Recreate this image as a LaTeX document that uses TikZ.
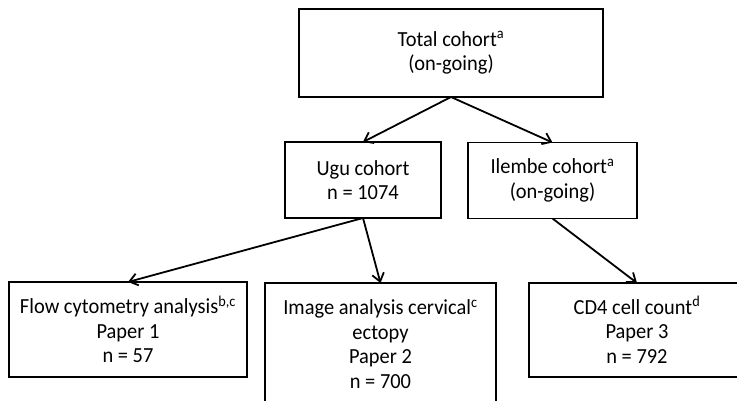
\documentclass[tikz,border=0pt]{standalone}
\usepackage{fontspec}
\setmainfont{Carlito}[FakeStretch=0.95]
\usetikzlibrary{arrows.meta}

\begin{document}
\begin{tikzpicture}[x=1pt,y=-1pt]
    \tikzstyle{cohort}=[draw,line width=1.8pt,inner sep=0pt,outer sep=0pt,align=center,font=\fontsize{21.5}{24.5}\selectfont];
    \tikzstyle{link}=[line width=1.8pt,-{Straight Barb[length=8pt,width=12pt,line width=1.8pt]}];
    \useasboundingbox (0,0) rectangle (737,400); \clip (0,0) rectangle (737,400);

    \node (total) [cohort,minimum width=304pt,minimum height=88pt] at (451,53)
     {Total cohort\textsuperscript{a}\\(on-going)};

    \node (ugu) [cohort,minimum width=156pt,minimum height=76pt] at (363,180)
     {Ugu cohort\\n = 1074};
    \node (ilembe) [cohort,minimum width=169pt,minimum height=76pt] at (552.5,180.5)
     {Ilembe cohort\textsuperscript{a}\\(on-going)};

    \node (flow) [cohort,minimum width=238pt,minimum height=95pt] at (128,329.5)
     {Flow cytometry analysis\textsuperscript{b,c}\\Paper 1\\n = 57};
    \node (image) [cohort,minimum width=231pt,minimum height=122pt] at (380.5,344)
     {Image analysis cervical\textsuperscript{c}\\ectopy\\Paper 2\\n = 700};
    \node (cdfour) [cohort,minimum width=216pt,minimum height=94pt] at (637,330)
     {CD4 cell count\textsuperscript{d}\\Paper 3\\n = 792};

    \path (total.south) edge [link] (ugu.north) edge [link] (ilembe.north)
    (ugu.south) edge [link] (flow.north) edge [link] (image.north)
    (ilembe.south) edge [link] (cdfour.north);
  \end{tikzpicture}
\end{document}
